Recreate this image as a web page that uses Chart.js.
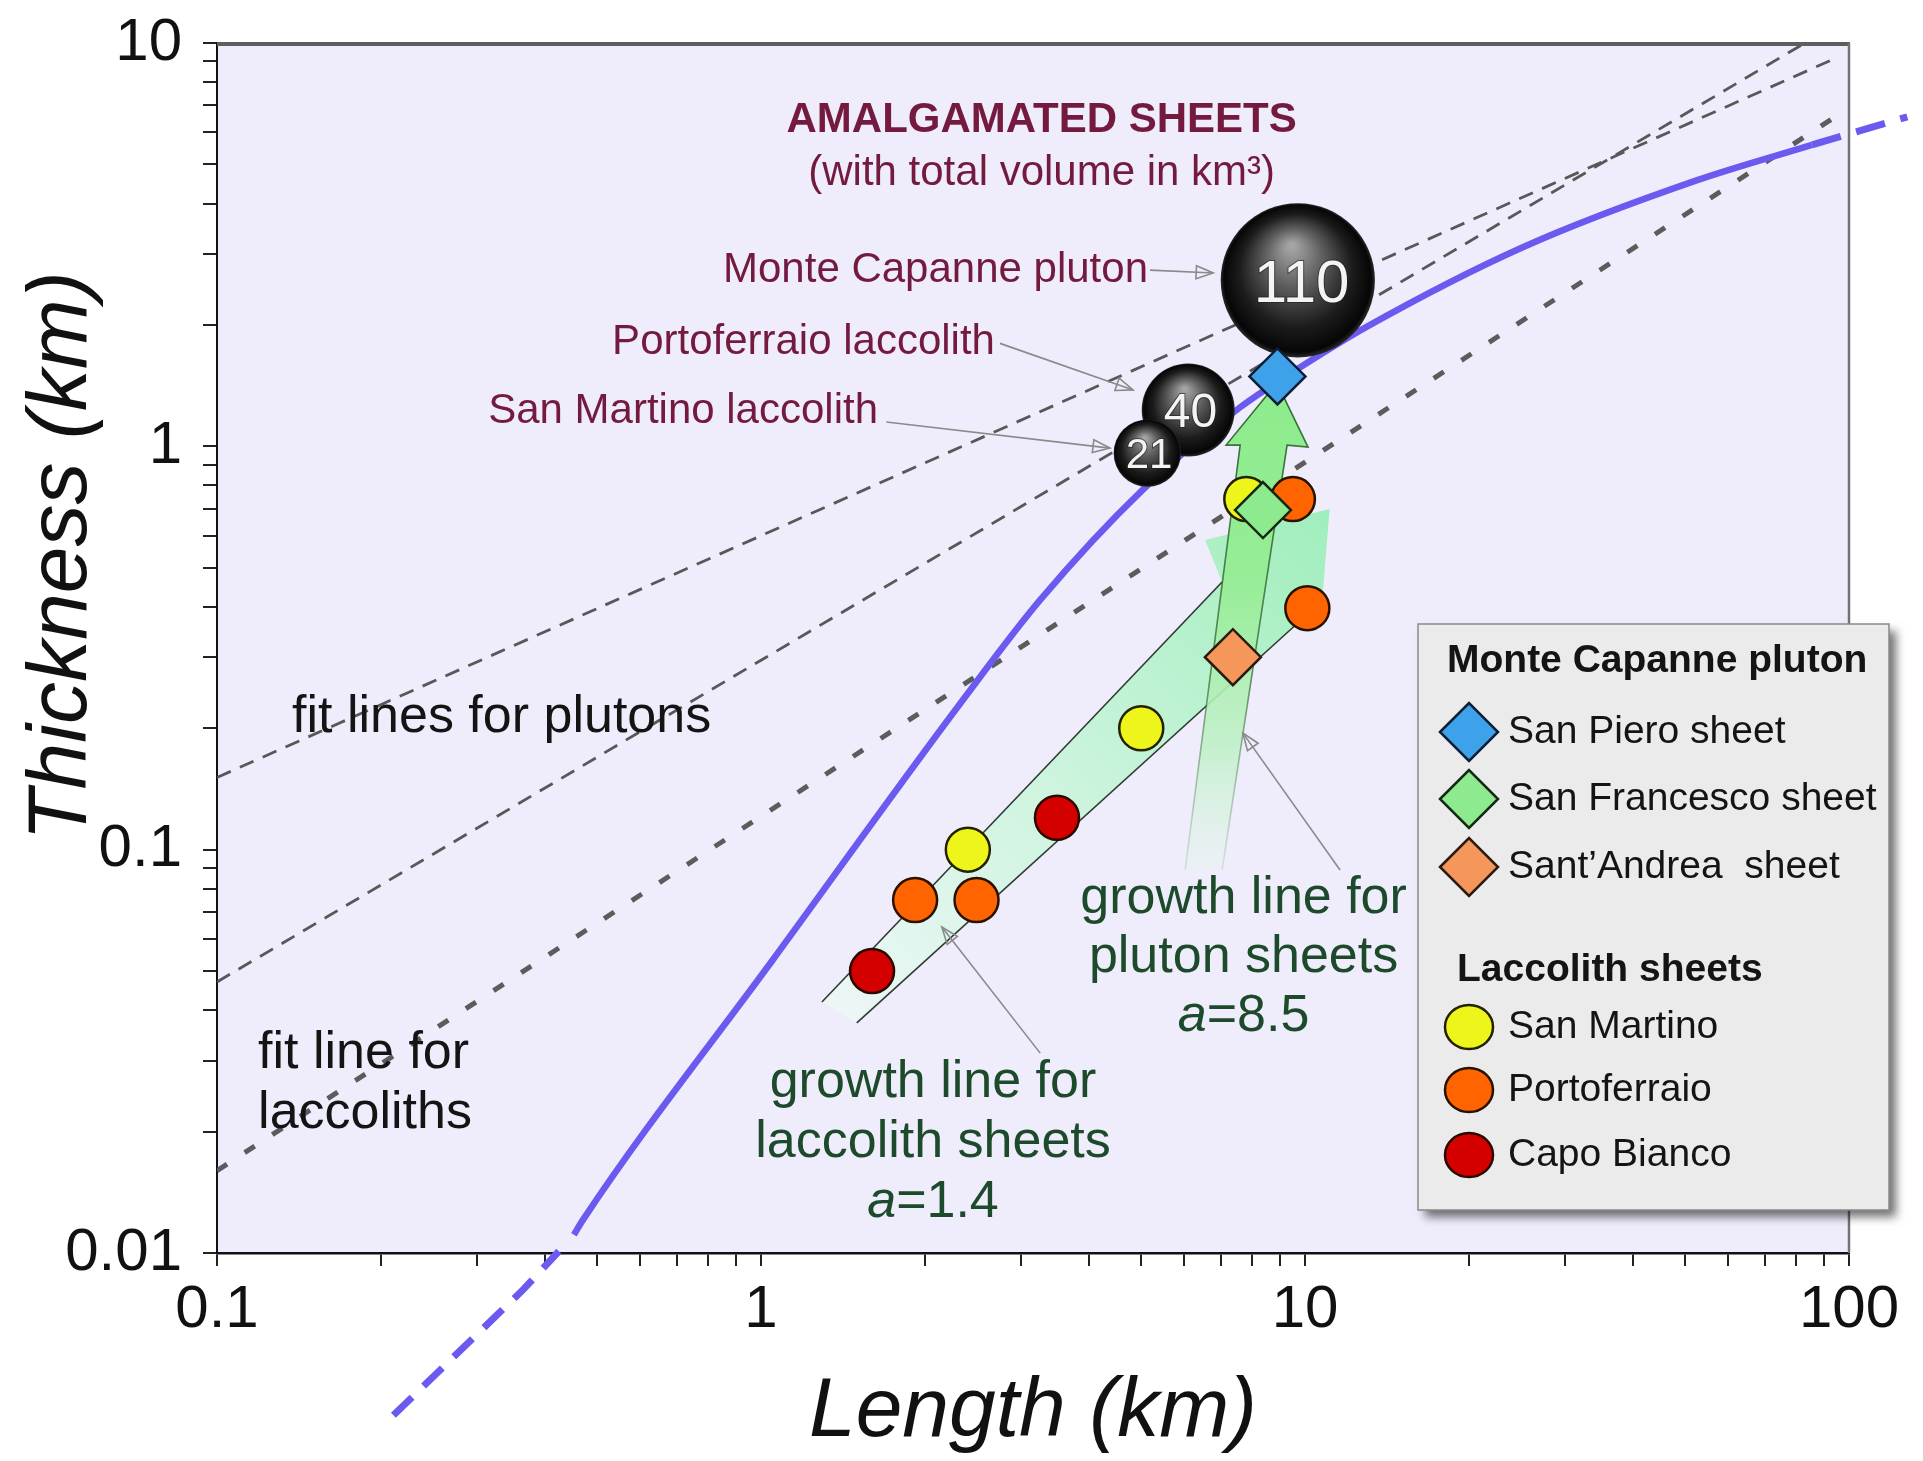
<!DOCTYPE html>
<html>
<head>
<meta charset="utf-8">
<title>Sheet thickness vs length</title>
<script src="https://cdn.jsdelivr.net/npm/chart.js@4.4.1/dist/chart.umd.min.js"></script>
<style>
  html, body { margin: 0; padding: 0; background: #ffffff; }
  canvas { display: block; }
</style>
</head>
<body>
<canvas id="chart" width="1923" height="1461"></canvas>
<script>
// ---------- axis tick labels ----------
const xTickLabels = ['0.1', '1', '10', '100'];
const yTickLabels = ['0.01', '0.1', '1', '10'];

// ---------- fit lines (length km -> thickness km) ----------
const plutonFitALen = [0.1, 95];
const plutonFitAThk = [0.151, 9.2];
const plutonFitBLen = [0.1, 83];
const plutonFitBThk = [0.047, 10];
const laccolithFitLen = [0.1, 95];
const laccolithFitThk = [0.016, 6.6];

// ---------- model curve (solid part and dashed extensions) ----------
const curveLen = [0.453, 0.471, 1.05, 2.35, 3.26, 5.03, 7.6, 9.8, 13.0, 25.2, 52.6, 85.5];
const curveThk = [0.0111, 0.0121, 0.0532, 0.235, 0.416, 0.78, 1.25, 1.57, 1.98, 3.12, 4.57, 5.59];
const curveLowLen = [0.211, 0.365, 0.425];
const curveLowThk = [0.00396, 0.0081, 0.0101];
const curveHighLen = [85.5, 128];
const curveHighThk = [5.59, 6.56];

// ---------- growth arrows (outline vertices) ----------
const lacArrowLen = [1.294, 7.04, 6.55, 11.1, 10.75, 1.50];
const lacArrowThk = [0.0419, 0.461, 0.586, 0.699, 0.4135, 0.0372];
const plutonArrowLen = [6.02, 7.60, 7.16, 8.88, 10.13, 9.27, 7.04];
const plutonArrowThk = [0.089, 1.007, 1.007, 1.436, 0.996, 1.007, 0.089];

// ---------- amalgamated sheets (total volume km3) ----------
const amalgLabels = ['110', '40', '21'];
const amalgLen = [9.7, 6.1, 5.13];
const amalgThk = [2.58, 1.23, 0.962];
const amalgVol = [110, 40, 21];

// ---------- Monte Capanne pluton sheets ----------
const sanPieroLen = [8.9];
const sanPieroThk = [1.49];
const sanFrancescoLen = [8.37];
const sanFrancescoThk = [0.695];
const santAndreaLen = [7.37];
const santAndreaThk = [0.30];

// ---------- laccolith sheets ----------
const sanMartinoLen = [2.4, 5.0, 7.8];
const sanMartinoThk = [0.1, 0.2, 0.74];
const portoferraioLen = [1.92, 2.49, 10.1, 9.5];
const portoferraioThk = [0.075, 0.075, 0.397, 0.74];
const capoBiancoLen = [1.6, 3.5];
const capoBiancoThk = [0.05, 0.12];

// ---------- leader lines (from label to mark) ----------
const pointerFromLen = [5.19, 2.75, 1.70, 3.26, 11.6];
const pointerFromThk = [2.735, 1.80, 1.149, 0.0313, 0.089];
const pointerToLen = [6.78, 4.83, 4.38, 2.15, 7.69];
const pointerToThk = [2.69, 1.38, 0.99, 0.0643, 0.1945];

// ---------- styling ----------
const FONT = '"Liberation Sans", Arial, Helvetica, sans-serif';
const MAROON = '#731a3e';
const GREEN_TXT = '#1d4a2b';
const FIT_GREY = '#585858';
const CURVE_BLUE = '#6a5af0';

const pts = (xs, ys) => xs.map((x, i) => ({ x, y: ys[i] }));

function pix(chart, x, y) {
  return [chart.scales.x.getPixelForValue(x), chart.scales.y.getPixelForValue(y)];
}

function decadeTicks(labels) {
  const majors = labels.map(Number);
  const out = [];
  majors.forEach((m, i) => {
    if (i === majors.length - 1) { out.push(m); return; }
    for (let k = 1; k < 10; k++) out.push(+(m * k).toPrecision(4));
  });
  return out.map(v => ({ value: v }));
}

function majorLabel(labels) {
  return (v) => {
    const hit = labels.find(l => Math.abs(Number(l) / v - 1) < 1e-6);
    return hit || '';
  };
}

// fixed axis boxes so the plot frame sits where it should
function fixBox(size, horizontal) {
  return (s) => {
    if (horizontal) s.height = size; else s.width = size;
    s.paddingTop = 0; s.paddingBottom = 0; s.paddingLeft = 0; s.paddingRight = 0;
  };
}

// gradient fills for the growth arrows
function lacArrowFill(c) {
  const ch = c.chart;
  if (!ch.chartArea) return 'rgba(190,242,210,1)';
  const [x0, y0] = pix(ch, lacArrowLen[0], lacArrowThk[0]);
  const [x1, y1] = pix(ch, lacArrowLen[3], lacArrowThk[3]);
  const g = ch.ctx.createLinearGradient(x0, y0, x1, y1);
  g.addColorStop(0, 'rgba(236,247,246,0.95)');
  g.addColorStop(0.45, 'rgba(205,244,222,1)');
  g.addColorStop(1, 'rgba(160,238,188,1)');
  return g;
}
function plutonArrowFill(c) {
  const ch = c.chart;
  if (!ch.chartArea) return 'rgba(150,238,150,1)';
  const [, yTop] = pix(ch, plutonArrowLen[3], plutonArrowThk[3]);
  const [, yBot] = pix(ch, plutonArrowLen[0], plutonArrowThk[0]);
  const g = ch.ctx.createLinearGradient(0, yTop, 0, yBot);
  g.addColorStop(0, 'rgba(140,236,140,1)');
  g.addColorStop(0.4, 'rgba(150,237,150,1)');
  g.addColorStop(0.75, 'rgba(190,240,198,0.85)');
  g.addColorStop(1, 'rgba(228,245,232,0.35)');
  return g;
}
function plutonArrowEdge(c) {
  const ch = c.chart;
  if (!ch.chartArea) return '#2c5a2c';
  const [, yTop] = pix(ch, plutonArrowLen[3], plutonArrowThk[3]);
  const [, yBot] = pix(ch, plutonArrowLen[0], plutonArrowThk[0]);
  const g = ch.ctx.createLinearGradient(0, yTop, 0, yBot);
  g.addColorStop(0, 'rgba(35,90,35,0.9)');
  g.addColorStop(0.6, 'rgba(45,100,45,0.7)');
  g.addColorStop(1, 'rgba(80,130,80,0.15)');
  return g;
}
// shaded black spheres
function sphereFill(c) {
  if (c.type !== 'data' || !c.chart.chartArea) return '#111';
  const ch = c.chart, raw = c.raw;
  const [cx, cy] = pix(ch, raw.x, raw.y);
  const r = raw.r;
  const g = ch.ctx.createRadialGradient(cx - 0.08 * r, cy - 0.45 * r, 0.04 * r, cx, cy, r);
  g.addColorStop(0, '#a4a4a4');
  g.addColorStop(0.35, '#5e5e5e');
  g.addColorStop(0.72, '#1c1c1c');
  g.addColorStop(0.95, '#060606');
  g.addColorStop(1, '#2a2a2a');
  return g;
}

const lineBase = { type: 'line', pointRadius: 0, fill: false, tension: 0 };

const datasets = [
  { ...lineBase, label: 'fit line plutons A', data: pts(plutonFitALen, plutonFitAThk),
    borderColor: FIT_GREY, borderWidth: 2.8, borderDash: [15, 10], order: 20 },
  { ...lineBase, label: 'fit line plutons B', data: pts(plutonFitBLen, plutonFitBThk),
    borderColor: FIT_GREY, borderWidth: 2.8, borderDash: [15, 10], order: 20 },
  { ...lineBase, label: 'fit line laccoliths', data: pts(laccolithFitLen, laccolithFitThk),
    borderColor: '#5c5c5c', borderWidth: 5, borderDash: [12, 21], order: 20 },

  { ...lineBase, label: 'model curve', data: pts(curveLen, curveThk), borderColor: CURVE_BLUE,
    borderWidth: 6.5, cubicInterpolationMode: 'monotone', order: 18 },
  { ...lineBase, label: 'model curve (low)', data: pts(curveLowLen, curveLowThk), borderColor: CURVE_BLUE,
    borderWidth: 7, borderDash: [26, 16], clip: false, order: 18 },
  { ...lineBase, label: 'model curve (high)', data: pts(curveHighLen, curveHighThk), borderColor: CURVE_BLUE,
    borderWidth: 7, borderDash: [30, 16], clip: false, order: 18 },

  { ...lineBase, label: 'growth line laccolith sheets', data: pts(lacArrowLen, lacArrowThk),
    fill: 'shape', backgroundColor: lacArrowFill, borderWidth: 0, borderColor: 'rgba(0,0,0,0)', order: 16 },
  { ...lineBase, label: 'growth line laccolith edge L', data: pts(lacArrowLen.slice(0, 2), lacArrowThk.slice(0, 2)),
    borderColor: '#2f3a30', borderWidth: 1.6, order: 15 },
  { ...lineBase, label: 'growth line laccolith edge R', data: pts(lacArrowLen.slice(4), lacArrowThk.slice(4)),
    borderColor: '#2f3a30', borderWidth: 1.6, order: 15 },
  { ...lineBase, label: 'growth line pluton sheets', data: pts(plutonArrowLen, plutonArrowThk),
    fill: 'shape', backgroundColor: plutonArrowFill, borderColor: plutonArrowEdge, borderWidth: 1.6, order: 14 },

  { type: 'bubble', label: 'amalgamated sheets',
    data: amalgLen.map((x, i) => ({ x, y: amalgThk[i], r: 7.35 * Math.sqrt(amalgVol[i]) })),
    backgroundColor: sphereFill, borderWidth: 0, order: 12 },

  { label: 'Capo Bianco', section: 'laccolith', data: pts(capoBiancoLen, capoBiancoThk),
    pointStyle: 'circle', pointRadius: 22, backgroundColor: '#d40000', borderColor: '#2a0a00', borderWidth: 2.5, order: 10 },
  { label: 'Portoferraio', section: 'laccolith', data: pts(portoferraioLen, portoferraioThk),
    pointStyle: 'circle', pointRadius: 22, backgroundColor: '#ff6400', borderColor: '#2a1200', borderWidth: 2.5, order: 10 },
  { label: 'San Martino', section: 'laccolith', data: pts(sanMartinoLen, sanMartinoThk),
    pointStyle: 'circle', pointRadius: 22, backgroundColor: '#eef51a', borderColor: '#222200', borderWidth: 2.5, order: 10 },

  { label: 'Sant\u2019Andrea  sheet', section: 'pluton', data: pts(santAndreaLen, santAndreaThk),
    pointStyle: 'rectRot', pointRadius: 28, backgroundColor: '#f5965a', borderColor: '#2a1a10', borderWidth: 2.5, order: 8 },
  { label: 'San Francesco sheet', section: 'pluton', data: pts(sanFrancescoLen, sanFrancescoThk),
    pointStyle: 'rectRot', pointRadius: 28, backgroundColor: '#8eea8e', borderColor: '#142814', borderWidth: 2.5, order: 8 },
  { label: 'San Piero sheet', section: 'pluton', data: pts(sanPieroLen, sanPieroThk),
    pointStyle: 'rectRot', pointRadius: 28, backgroundColor: '#3ea2ea', borderColor: '#0e1e36', borderWidth: 2.5, order: 8 }
];

// ---------- text notes placed in data coordinates ----------
const notes = [
  { text: 'AMALGAMATED SHEETS', x: 3.28, y: 6.02, align: 'center', font: 'bold 42px', color: MAROON },
  { text: '(with total volume in km\u00B3)', x: 3.28, y: 4.45, align: 'center', font: '42px', color: MAROON },
  { text: 'Monte Capanne pluton', x: 5.145, y: 2.556, align: 'right', font: '42px', color: MAROON },
  { text: 'Portoferraio laccolith', x: 2.692, y: 1.694, align: 'right', font: '42px', color: MAROON },
  { text: 'San Martino laccolith', x: 1.641, y: 1.142, align: 'right', font: '42px', color: MAROON },
  { text: 'fit lines for plutons', x: 0.1374, y: 0.1957, align: 'left', font: '52px', color: '#141414' },
  { text: 'fit line for', x: 0.119, y: 0.02874, align: 'left', font: '52px', color: '#141414' },
  { text: 'laccoliths', x: 0.119, y: 0.0204, align: 'left', font: '52px', color: '#141414' },
  { text: 'growth line for', x: 2.071, y: 0.02436, align: 'center', font: '52px', color: GREEN_TXT },
  { text: 'laccolith sheets', x: 2.071, y: 0.01729, align: 'center', font: '52px', color: GREEN_TXT },
  { text: 'growth line for', x: 7.71, y: 0.0697, align: 'center', font: '52px', color: GREEN_TXT },
  { text: 'pluton sheets', x: 7.71, y: 0.0497, align: 'center', font: '52px', color: GREEN_TXT }
];
const exponentNotes = [
  { value: '=1.4', x: 2.071, y: 0.01227 },
  { value: '=8.5', x: 7.71, y: 0.0355 }
];

function drawPointer(ctx, x0, y0, x1, y1) {
  ctx.strokeStyle = '#8a8a8a';
  ctx.lineWidth = 1.6;
  ctx.beginPath(); ctx.moveTo(x0, y0); ctx.lineTo(x1, y1); ctx.stroke();
  const ang = Math.atan2(y1 - y0, x1 - x0), L = 17, W = 6.5;
  const bx = x1 - L * Math.cos(ang), by = y1 - L * Math.sin(ang);
  const nx = -Math.sin(ang), ny = Math.cos(ang);
  ctx.beginPath();
  ctx.moveTo(bx + nx * W, by + ny * W);
  ctx.lineTo(x1, y1);
  ctx.lineTo(bx - nx * W, by - ny * W);
  ctx.closePath();
  ctx.stroke();
}

function drawDiamond(ctx, x, y, r, fill, stroke) {
  ctx.beginPath();
  ctx.moveTo(x - r, y); ctx.lineTo(x, y - r); ctx.lineTo(x + r, y); ctx.lineTo(x, y + r); ctx.closePath();
  ctx.fillStyle = fill; ctx.fill();
  ctx.lineWidth = 2.5; ctx.strokeStyle = stroke; ctx.stroke();
}

const panelPlugin = {
  id: 'panel',
  beforeDraw(chart) {
    const { ctx, chartArea: a } = chart;
    ctx.save();
    ctx.fillStyle = '#ffffff';
    ctx.fillRect(0, 0, chart.width, chart.height);
    ctx.fillStyle = '#efedfc';
    ctx.fillRect(a.left, a.top, a.right - a.left, a.bottom - a.top);
    ctx.restore();
  },
  afterDatasetsDraw(chart) {
    const { ctx, chartArea: a } = chart;
    ctx.save();
    // frame: heavy top edge, light right edge
    ctx.strokeStyle = '#5e5e5e'; ctx.lineWidth = 4;
    ctx.beginPath(); ctx.moveTo(a.left, a.top + 1); ctx.lineTo(a.right + 1, a.top + 1); ctx.stroke();
    ctx.strokeStyle = '#747474'; ctx.lineWidth = 2.5;
    ctx.beginPath(); ctx.moveTo(a.right, a.top); ctx.lineTo(a.right, a.bottom); ctx.stroke();

    // volume labels on the spheres
    const bubbleIndex = datasets.findIndex(d => d.type === 'bubble');
    const meta = chart.getDatasetMeta(bubbleIndex);
    meta.data.forEach((el, i) => {
      const r = datasets[bubbleIndex].data[i].r;
      const fs = Math.round(28 + 0.42 * r);
      ctx.font = fs + 'px ' + FONT;
      ctx.textAlign = 'center'; ctx.textBaseline = 'alphabetic';
      ctx.lineWidth = 2; ctx.strokeStyle = 'rgba(30,30,30,0.6)';
      ctx.strokeText(amalgLabels[i], el.x + 0.05 * r, el.y + 0.36 * fs);
      ctx.fillStyle = '#f4f4f4';
      ctx.fillText(amalgLabels[i], el.x + 0.05 * r, el.y + 0.36 * fs);
    });

    // leader lines
    pointerFromLen.forEach((x, i) => {
      const [x0, y0] = pix(chart, x, pointerFromThk[i]);
      const [x1, y1] = pix(chart, pointerToLen[i], pointerToThk[i]);
      drawPointer(ctx, x0, y0, x1, y1);
    });

    // text notes
    notes.forEach(n => {
      const [px, py] = pix(chart, n.x, n.y);
      ctx.font = n.font + ' ' + FONT;
      ctx.fillStyle = n.color; ctx.textAlign = n.align; ctx.textBaseline = 'alphabetic';
      ctx.fillText(n.text, px, py);
    });
    exponentNotes.forEach(n => {
      const [px, py] = pix(chart, n.x, n.y);
      ctx.textBaseline = 'alphabetic'; ctx.textAlign = 'left'; ctx.fillStyle = GREEN_TXT;
      ctx.font = 'italic 52px ' + FONT;
      const wa = ctx.measureText('a').width;
      ctx.font = '52px ' + FONT;
      const wr = ctx.measureText(n.value).width;
      const x0 = px - (wa + wr) / 2;
      ctx.font = 'italic 52px ' + FONT;
      ctx.fillText('a', x0, py);
      ctx.font = '52px ' + FONT;
      ctx.fillText(n.value, x0 + wa, py);
    });
    ctx.restore();
  },
  afterDraw(chart) {
    const { ctx, chartArea: a } = chart;
    ctx.save();
    // axis titles
    ctx.fillStyle = '#111';
    ctx.font = 'italic 84px ' + FONT;
    ctx.textAlign = 'center'; ctx.textBaseline = 'alphabetic';
    ctx.fillText('Length (km)', (a.left + a.right) / 2, 1436);
    ctx.translate(86, 556);
    ctx.rotate(-Math.PI / 2);
    ctx.fillText('Thickness (km)', 0, 0);
    ctx.restore();

    // legend box
    const L = 1418, T = 624, W = 471, H = 586;
    ctx.save();
    ctx.shadowColor = 'rgba(0,0,0,0.55)'; ctx.shadowBlur = 9; ctx.shadowOffsetX = 7; ctx.shadowOffsetY = 7;
    ctx.fillStyle = '#ebebeb'; ctx.fillRect(L, T, W, H);
    ctx.restore();
    ctx.save();
    ctx.strokeStyle = '#8a8a8a'; ctx.lineWidth = 1.5; ctx.strokeRect(L, T, W, H);

    ctx.fillStyle = '#141414'; ctx.textAlign = 'left'; ctx.textBaseline = 'alphabetic';
    ctx.font = 'bold 39px ' + FONT;
    ctx.fillText('Monte Capanne pluton', L + 29, T + 48);
    ctx.fillText('Laccolith sheets', L + 39, T + 357);

    const plutonRows = [108, 175, 243];
    const lacRows = [403, 466, 531];
    const plutonSets = ['San Piero sheet', 'San Francesco sheet', 'Sant\u2019Andrea  sheet'].map(l => datasets.find(d => d.label === l));
    const lacSets = ['San Martino', 'Portoferraio', 'Capo Bianco'].map(l => datasets.find(d => d.label === l));
    ctx.font = '39px ' + FONT; ctx.textBaseline = 'middle';
    plutonSets.forEach((d, i) => {
      const y = T + plutonRows[i];
      drawDiamond(ctx, L + 51, y, 29, d.backgroundColor, d.borderColor);
      ctx.fillStyle = '#141414';
      ctx.fillText(d.label, L + 90, y);
    });
    lacSets.forEach((d, i) => {
      const y = T + lacRows[i];
      ctx.beginPath(); ctx.ellipse(L + 51, y, 24, 22, 0, 0, Math.PI * 2);
      ctx.fillStyle = d.backgroundColor; ctx.fill();
      ctx.lineWidth = 2.5; ctx.strokeStyle = d.borderColor; ctx.stroke();
      ctx.fillStyle = '#141414';
      ctx.fillText(d.label, L + 90, y);
    });
    ctx.restore();
  }
};

const tickFont = { family: FONT, size: 60 };

new Chart(document.getElementById('chart').getContext('2d'), {
  type: 'scatter',
  data: { datasets },
  options: {
    responsive: false,
    animation: false,
    devicePixelRatio: 1,
    events: [],
    layout: { autoPadding: false, padding: { top: 43, right: 74, left: 0, bottom: 0 } },
    plugins: { legend: { display: false }, tooltip: { enabled: false } },
    scales: {
      x: {
        type: 'logarithmic', position: 'bottom', min: 0.1, max: 100,
        afterFit: fixBox(208, true),
        afterBuildTicks: (s) => { s.ticks = decadeTicks(xTickLabels); },
        ticks: { autoSkip: false, maxRotation: 0, padding: 8, color: '#111', font: tickFont, callback: majorLabel(xTickLabels) },
        grid: { drawOnChartArea: false, drawTicks: true, tickLength: 13, color: '#222', lineWidth: 2 },
        border: { display: true, color: '#111', width: 2.5 }
      },
      y: {
        type: 'logarithmic', position: 'left', min: 0.01, max: 10,
        afterFit: fixBox(217, false),
        afterBuildTicks: (s) => { s.ticks = decadeTicks(yTickLabels); },
        ticks: { autoSkip: false, padding: 21, color: '#111', font: tickFont, callback: majorLabel(yTickLabels) },
        grid: { drawOnChartArea: false, drawTicks: true, tickLength: 14, color: '#222', lineWidth: 2 },
        border: { display: true, color: '#111', width: 2 }
      }
    }
  },
  plugins: [panelPlugin]
});
</script>
</body>
</html>
